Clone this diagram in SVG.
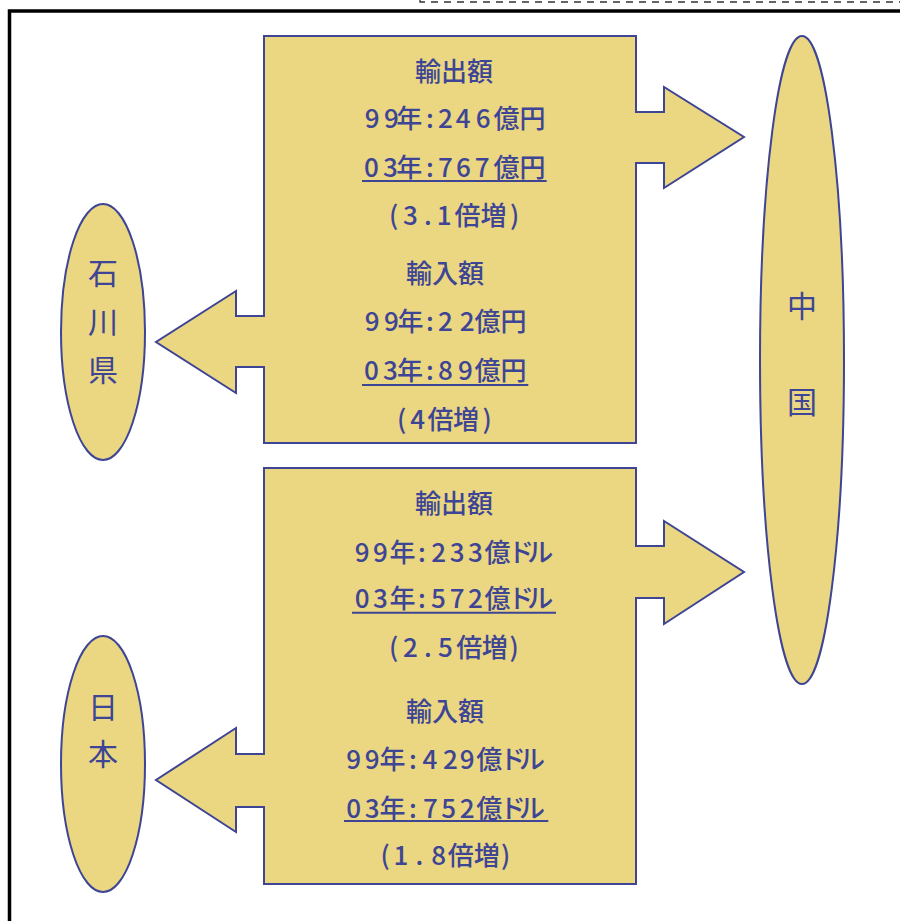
<svg xmlns="http://www.w3.org/2000/svg" width="900" height="921" viewBox="0 0 900 921">
<style>
.shape{fill:#EBD682;stroke:#3D4594;stroke-width:2;stroke-linejoin:miter}
.t{font-family:"Noto Sans CJK JP","Noto Sans",sans-serif;font-size:26px;font-weight:500;fill:#3D4594}
.lab{font-family:"Noto Sans CJK JP","Noto Sans",sans-serif;font-size:30px;fill:#3D4594;text-anchor:middle}
.mid{text-anchor:middle}
.ul{stroke:#3D4594;stroke-width:2}
</style>
<rect x="0" y="0" width="900" height="921" fill="#ffffff"/>
<g id="frame">
<path d="M420,0 L420,2 L900,2" fill="none" stroke="#333" stroke-width="1.3" stroke-dasharray="7,6"/>
<path d="M9.5,921 L9.5,11 L900,11" fill="none" stroke="#000" stroke-width="3.5"/>
</g>
<g id="connectors"></g>
<g id="node-ishikawa">
<ellipse class="shape" cx="103" cy="332" rx="42" ry="128"/>
<text class="lab" x="103" y="284">石</text>
<text class="lab" x="103" y="333">川</text>
<text class="lab" x="103" y="381">県</text>
</g>
<g id="node-japan">
<ellipse class="shape" cx="103" cy="764" rx="42" ry="128"/>
<text class="lab" x="103" y="718">日</text>
<text class="lab" x="103" y="765">本</text>
</g>
<g id="node-china">
<ellipse class="shape" cx="802" cy="360" rx="42" ry="324"/>
<text class="lab" x="802" y="317">中</text>
<text class="lab" x="802" y="413">国</text>
</g>
<g id="node-ishikawa-china">
<polygon class="shape" points="264,36 636,36 636,112 664,112 664,87 744,137 664,188 664,163 636,163 636,443 264,443 264,367 236,367 236,393 156,342 236,291 236,316 264,316"/>
<text class="t mid" x="454" y="81">輸出額</text>
<text class="t" x="364.7 384 396.2 426 438 455.8 475.8 493.5 519.5" y="128">99年:246億円</text>
<text class="t" x="364 383 396.2 426 438 456 474.7 493.5 519.5" y="177">03年:767億円</text>
<line class="ul" x1="362" y1="181" x2="546.7" y2="181"/>
<text class="t" x="389 403 424 436.8 454.5 480.5 510" y="225">(3.1倍増)</text>
<text class="t mid" x="445" y="283">輸入額</text>
<text class="t" x="364.7 384 397.5 426 438 459.7 474.5 500.5" y="331">99年:22億円</text>
<text class="t" x="364 383 397 426 438 458 474.5 500.5" y="380">03年:89億円</text>
<line class="ul" x1="362" y1="385" x2="528.3" y2="385"/>
<text class="t" x="397 410.2 427.5 453 482.5" y="429">(4倍増)</text>
</g>
<g id="node-japan-china">
<polygon class="shape" points="264,468 636,468 636,546 664,546 664,521 744,572 664,624 664,598 636,598 636,884 264,884 264,807 236,807 236,832 156,780 236,728 236,754 264,754"/>
<text class="t mid" x="454" y="513">輸出額</text>
<text class="t" x="354.7 373 389.5 418 431.3 449.7 468 484.5 508 527.3" y="561.7">99年:233億ドル</text>
<text class="t" x="354.7 373 389.5 418 431 449.7 468 484.5 508 527.3" y="608.3">03年:572億ドル</text>
<line class="ul" x1="352" y1="612.7" x2="556" y2="612.7"/>
<text class="t" x="389 403 424 438 456.2 481.7 509.5" y="656.7">(2.5倍増)</text>
<text class="t mid" x="445" y="721">輸入額</text>
<text class="t" x="346.3 364.7 379.5 409 422.5 443 459.7 476.2 499.7 519" y="769.3">99年:429億ドル</text>
<text class="t" x="346.3 364.7 379.5 409 423 441.3 459.7 476.2 499.7 519" y="818.3">03年:752億ドル</text>
<line class="ul" x1="344" y1="821" x2="548.3" y2="821"/>
<text class="t" x="380.5 393.5 415.5 431.3 447.8 473.8 501" y="865">(1.8倍増)</text>
</g>
</svg>
